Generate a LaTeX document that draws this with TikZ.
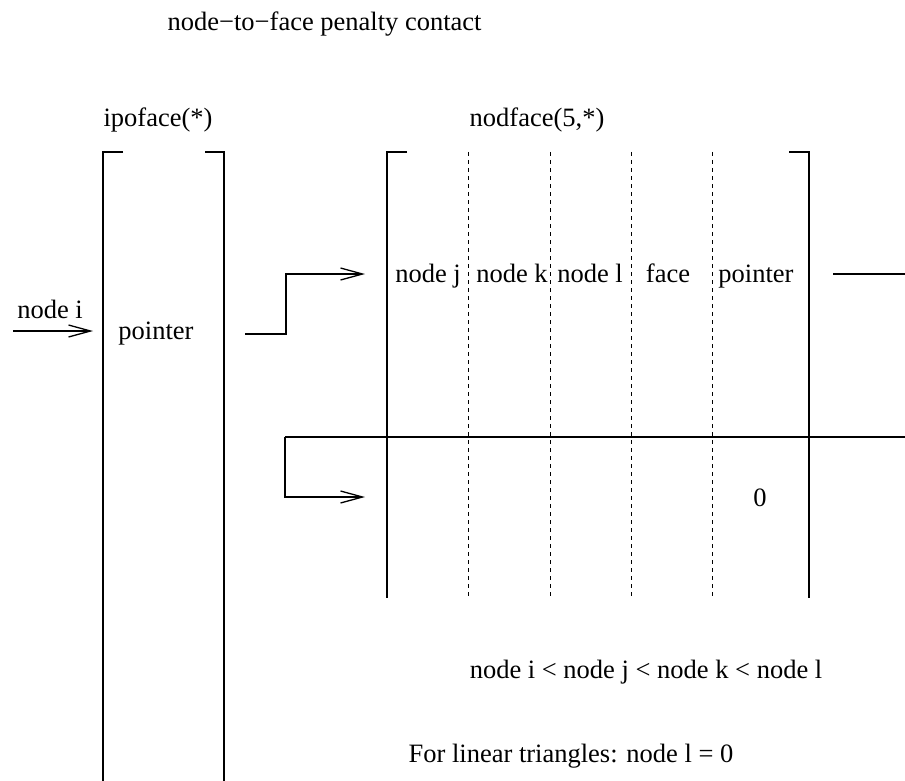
\documentclass[tikz,border=0pt]{standalone}
\usepackage{fontspec}
\setmainfont{Liberation Serif}
\usetikzlibrary{arrows.meta}
\begin{document}
\begin{tikzpicture}[x=1pt,y=-1pt,line width=1.3pt,
  lbl/.style={inner sep=0pt,anchor=base,font=\fontsize{26.5}{32}\selectfont},
  arr/.style={-{Straight Barb[length=22pt,width=12pt,line width=1.3pt]}},
  sep/.style={dash pattern=on 4pt off 4pt,line width=0.9pt}]
\useasboundingbox (0,0) rectangle (905,781);
% texts
\node[lbl,anchor=base west] (title) at (167,31) {node\textminus to\textminus face penalty contact};
\node[lbl] (ipo) at (158,127) {ipoface(*)};
\node[lbl] (nod) at (537,127) {nodface(5,*)};
\node[lbl] (ni) at (50,318) {node i};
\node[lbl] (ptr) at (156,339) {pointer};
\node[lbl] (nj) at (428,282) {node j};
\node[lbl] (nk) at (512,282) {node k};
\node[lbl] (nl) at (590,282) {node l};
\node[lbl] (fc) at (668,282) {face};
\node[lbl] (p2) at (756,282) {pointer};
\node[lbl] (zero) at (760,506) {0};
\node[lbl] (order) at (646,678) {node i {\textless} node j {\textless} node k {\textless} node l};
\node[lbl] (lin) at (571,762) {For linear triangles: node l = 0};
% left array
\coordinate (a1) at (103,152); \coordinate (a1t) at (123,152); \coordinate (a1b) at (103,781);
\coordinate (a2) at (224,152); \coordinate (a2t) at (205,152); \coordinate (a2b) at (224,781);
\draw (a1t) -- (a1) -- (a1b);
\draw (a2t) -- (a2) -- (a2b);
% right array
\coordinate (b1) at (387,152); \coordinate (b1t) at (407,152); \coordinate (b1b) at (387,598);
\coordinate (b2) at (809,152); \coordinate (b2t) at (789,152); \coordinate (b2b) at (809,598);
\draw (b1t) -- (b1) -- (b1b);
\draw (b2t) -- (b2) -- (b2b);
\foreach \x/\n in {468/d1,550/d2,631/d3,712/d4}{
  \coordinate (\n t) at (\x,152); \coordinate (\n b) at (\x,598);
  \draw[sep] (\n t) -- (\n b);
}
% row separator
\coordinate (h1) at (285,437); \coordinate (h2) at (905,437);
\draw (h1) -- (h2);
% arrows
\coordinate (s0) at (13,331); \coordinate (s1) at (93,331);
\draw[arr] (s0) -- (s1);
\coordinate (c0) at (245,334); \coordinate (c1) at (286,334); \coordinate (c2) at (286,274); \coordinate (c3) at (365,274);
\draw[arr] (c0) -- (c1) -- (c2) -- (c3);
\coordinate (e1) at (285,497); \coordinate (e2) at (365,497);
\draw[arr] (h1) -- (e1) -- (e2);
\coordinate (f0) at (833,274); \coordinate (f1) at (905,274);
\draw (f0) -- (f1);
\end{tikzpicture}
\end{document}
